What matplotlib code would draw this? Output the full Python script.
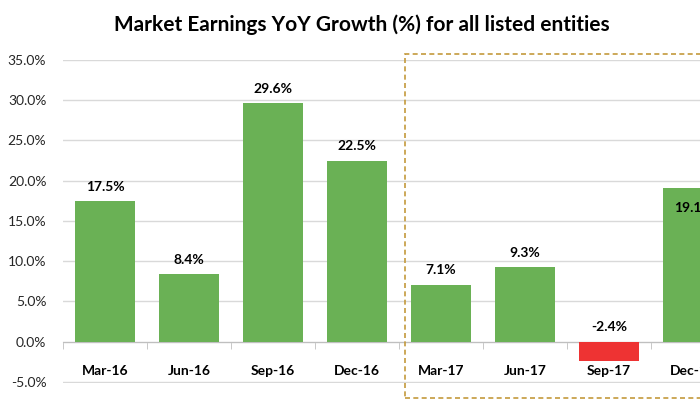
import matplotlib.pyplot as plt
from matplotlib.patches import Rectangle
import numpy as np

quarters = ["Mar-16", "Jun-16", "Sep-16", "Dec-16", "Mar-17", "Jun-17", "Sep-17", "Dec-17"]
growth = [17.5, 8.4, 29.6, 22.5, 7.1, 9.3, -2.4, 19.1]
inside_label = [False, False, False, False, False, False, False, True]

plt.rcParams["font.family"] = ["Lato", "DejaVu Sans"]

fig = plt.figure(figsize=(7, 4), dpi=100)
# axes runs past the right edge, like the cropped original
ax = fig.add_axes([63 / 700, 0.043, 672 / 700, 0.807])

x = np.arange(len(quarters))
colors = ["#6AB155" if v >= 0 else "#EE3333" for v in growth]
bars = ax.bar(x, growth, width=0.72, color=colors, zorder=2)

for b, v, inside in zip(bars, growth, inside_label):
    top = max(v, 0)
    if inside:
        ax.annotate(f"{v:.1f}%", (b.get_x() + b.get_width() / 2, top),
                    xytext=(0, -10), textcoords="offset points",
                    ha="center", va="top", fontsize=10, fontweight="bold", zorder=3)
    else:
        ax.annotate(f"{v:.1f}%", (b.get_x() + b.get_width() / 2, top),
                    xytext=(0, 6), textcoords="offset points",
                    ha="center", va="bottom", fontsize=10, fontweight="bold", zorder=3)

ax.set_xlim(-0.5, len(quarters) - 0.5)
ax.set_ylim(-5.1, 35)
ax.set_yticks(np.arange(-5, 36, 5))
ax.set_yticklabels([f"{t:.1f}%" for t in np.arange(-5, 36, 5)], color="#262626")
ax.yaxis.grid(True, color="#D9D9D9", linewidth=1, zorder=0)
ax.set_axisbelow(True)

for s in ["top", "right", "left"]:
    ax.spines[s].set_visible(False)
ax.spines["bottom"].set_position(("data", 0))
ax.spines["bottom"].set_color("#BFBFBF")
ax.spines["bottom"].set_zorder(1)

ax.set_xticks(x)
ax.set_xticklabels(quarters, fontsize=10, fontweight="bold")
ax.set_xticks(np.arange(-0.5, len(quarters), 1), minor=True)
ax.tick_params(axis="x", which="major", length=0, pad=17)
ax.tick_params(axis="x", which="minor", length=5, color="#BFBFBF")
ax.tick_params(axis="y", length=0, labelsize=10, pad=12)

fig.text(362 / 700, 1 - 25 / 400, "Market Earnings YoY Growth (%) for all listed entities",
         ha="center", va="center", fontsize=15, fontweight="bold")

# dashed box around 2017 quarters
box = Rectangle((405 / 700, 1 - 398 / 400), 300 / 700, 344 / 400,
                transform=fig.transFigure, fill=False, linestyle=(0, (3, 2)),
                edgecolor="#C49A3C", linewidth=1.2, clip_on=False)
fig.patches.append(box)

fig.savefig("out.png", dpi=100)
